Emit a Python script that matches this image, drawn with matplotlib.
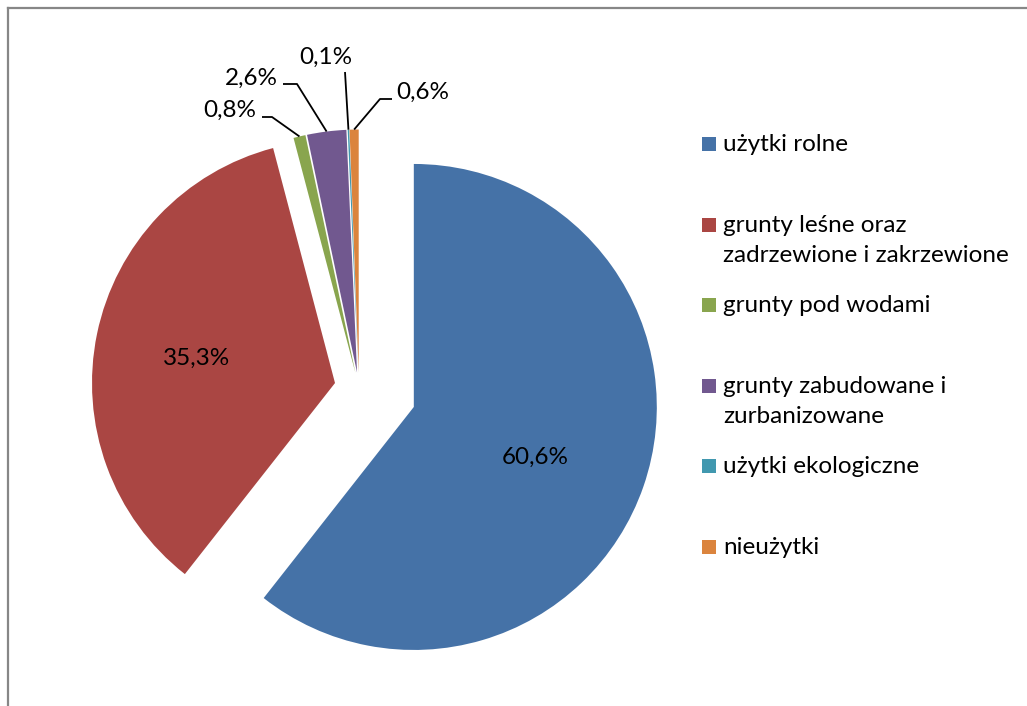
import numpy as np
import matplotlib
matplotlib.use("Agg")
import matplotlib.pyplot as plt
from matplotlib.patches import Rectangle
from matplotlib.lines import Line2D

# ---- data ----
categories = ["użytki rolne",
              "grunty leśne oraz\nzadrzewione i zakrzewione",
              "grunty pod wodami",
              "grunty zabudowane i\nzurbanizowane",
              "użytki ekologiczne",
              "nieużytki"]
values = [60.6, 35.3, 0.8, 2.6, 0.1, 0.6]
pct_labels = ["60,6%", "35,3%", "0,8%", "2,6%", "0,1%", "0,6%"]
colors = ["#4572A7", "#AA4643", "#89A54E", "#71588F", "#4198AF", "#DB843D"]

W, H = 1027, 706
FONT = ["Lato", "DejaVu Sans"]
FS = 17.5

fig = plt.figure(figsize=(W / 100, H / 100), dpi=100)
ax = fig.add_axes([0, 0, 1, 1])

def py(y):
    return H - y

center = (359, py(388))
radius = 243
explode = [58, 24.5, 15.5, 15.5, 15.5, 15.5]

wedges, _ = ax.pie(values, colors=colors, startangle=90, counterclock=False,
                   explode=explode, center=center, radius=radius,
                   wedgeprops=dict(linewidth=0), frame=True)
ax.set_xlim(0, W)
ax.set_ylim(0, H)
ax.set_aspect("auto")
ax.axis("off")

def wedge_point(w, frac, dtheta=0.0):
    th = np.deg2rad(0.5 * (w.theta1 + w.theta2) + dtheta)
    cx, cy = w.center
    return cx + frac * w.r * np.cos(th), cy + frac * w.r * np.sin(th)

# inner labels for the two large slices
for i, frac, dth in [(0, 0.54, -3.5), (1, 0.58, 1.5)]:
    x, y = wedge_point(wedges[i], frac, dth)
    ax.text(x, y, pct_labels[i], ha="center", va="center",
            fontsize=FS, family=FONT, color="black")

# outer labels with leader lines (text anchor, line start, elbow)
outer = {
    2: dict(text=(256, 110), ha="right", start=(262, 117), elbow=(272, 117)),
    3: dict(text=(278, 78), ha="right", start=(283, 84), elbow=(297, 84)),
    4: dict(text=(326, 57), ha="center", start=(345, 72), elbow=(345, 72)),
    5: dict(text=(396, 92), ha="left", start=(392, 99), elbow=(380, 99)),
}
for i, o in outer.items():
    tx, ty = o["text"]
    ax.text(tx, py(ty), pct_labels[i], ha=o["ha"], va="center",
            fontsize=FS, family=FONT, color="black")
    ex, ey = wedge_point(wedges[i], 1.0)
    ax.plot([o["start"][0], o["elbow"][0], ex],
            [py(o["start"][1]), py(o["elbow"][1]), ey],
            color="black", lw=1.3, solid_capstyle="butt")

# legend (manual, evenly spaced first lines)
leg_x, leg_y0, leg_dy = 702, 144, 80.6
for i, (cat, col) in enumerate(zip(categories, colors)):
    yc = leg_y0 + i * leg_dy
    ax.add_patch(Rectangle((leg_x, py(yc) - 7), 14, 14, facecolor=col,
                           edgecolor="none"))
    ax.text(leg_x + 21, py(yc) + 10, cat, ha="left", va="top",
            fontsize=FS, family=FONT, color="black", linespacing=1.55)

# chart-area border (top & left visible)
fig.add_artist(Line2D([8 / W, 1], [1 - 8 / H, 1 - 8 / H], color="#878787", lw=1.6))
fig.add_artist(Line2D([8 / W, 8 / W], [0, 1 - 8 / H], color="#878787", lw=1.6))

fig.savefig("out.png", dpi=100, facecolor="white")
